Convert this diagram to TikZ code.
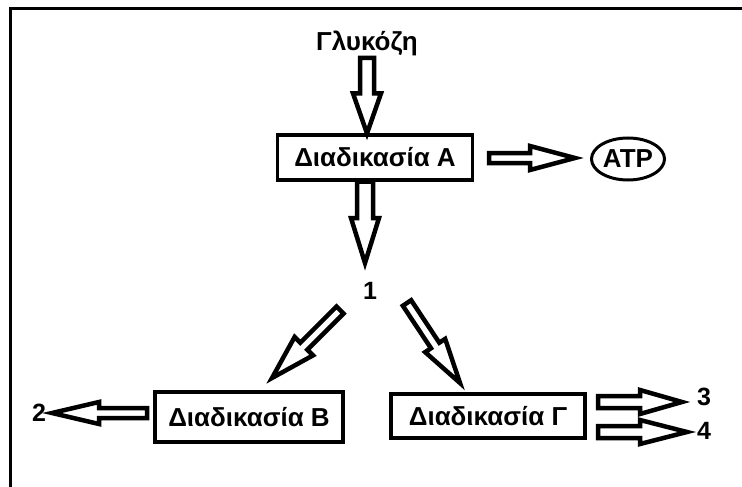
\documentclass[tikz,border=0pt]{standalone}
\usepackage{fontspec}
\setmainfont{Liberation Sans}
\usetikzlibrary{calc,shapes.geometric}
\newcommand{\blockarrow}[5]{%
  \coordinate (bah) at ($(#2)!#5!(#1)$);
  \draw[barrow] ($(#1)!#3!90:(#2)$) -- ($(bah)!#3!90:(#2)$) -- ($(bah)!#4!90:(#2)$) -- (#2)
     -- ($(bah)!#4!-90:(#2)$) -- ($(bah)!#3!-90:(#2)$) -- ($(#1)!#3!-90:(#2)$) -- cycle;}
\begin{document}
\begin{tikzpicture}[x=1pt,y=-1pt,
  txt/.style={font=\bfseries\fontsize{26}{30}\selectfont, inner sep=0pt},
  num/.style={font=\bfseries\fontsize{25}{28}\selectfont, inner sep=0pt},
  procbox/.style={draw, line width=3.2pt, txt},
  barrow/.style={draw, line width=4.5pt, fill=white, line join=miter, miter limit=20}]
\useasboundingbox (0,0) rectangle (742,487);
\fill[white] (0,0) rectangle (742,487);
\draw[line width=3pt] (10,487) -- (10,9) -- (742,9);
% nodes
\node[txt] (glu) at (367,43) {Γλυκόζη};
\node[procbox, minimum width=195, minimum height=45] (A) at (375,157.5) {Διαδικασία Α};
\node[draw, ellipse, line width=3pt, txt, inner sep=0pt, minimum width=73, minimum height=42] (atp) at (628,159) {ATP};
\node[num] (n1) at (370,291) {1};
\node[procbox, minimum width=188, minimum height=50] (B) at (249,417) {Διαδικασία Β};
\node[procbox, minimum width=194, minimum height=44] (G) at (488,416) {Διαδικασία Γ};
\node[num] (n2) at (39,413) {2};
\node[num] (n3) at (704,397) {3};
\node[num] (n4) at (704,431) {4};
% connector end points
\coordinate (t1) at (367,58);  \coordinate (h1) at (A.north -| t1);
\coordinate (t2) at (489,158); \coordinate (h2) at (575,158);
\coordinate (t3) at (A.south -| 365,0); \coordinate (h3) at (365,263);
\coordinate (t4) at (340,310); \coordinate (h4) at (272,378);
\coordinate (t5) at (407,303); \coordinate (h5) at (460,383);
\coordinate (t6) at (147,413); \coordinate (h6) at (52,413);
\coordinate (t7) at (598,402); \coordinate (h7) at (682,402);
\coordinate (t8) at (598,432); \coordinate (h8) at (687,432);
% block arrows
\blockarrow{t1}{h1}{7pt}{14pt}{40pt}
\blockarrow{t2}{h2}{5pt}{12pt}{45pt}
\blockarrow{t3}{h3}{8pt}{14pt}{45pt}
\blockarrow{t4}{h4}{5pt}{13pt}{45pt}
\blockarrow{t5}{h5}{5pt}{12pt}{45pt}
\blockarrow{t6}{h6}{5pt}{11pt}{47pt}
\blockarrow{t7}{h7}{6pt}{12pt}{42pt}
\blockarrow{t8}{h8}{6pt}{12pt}{47pt}
\end{tikzpicture}
\end{document}
